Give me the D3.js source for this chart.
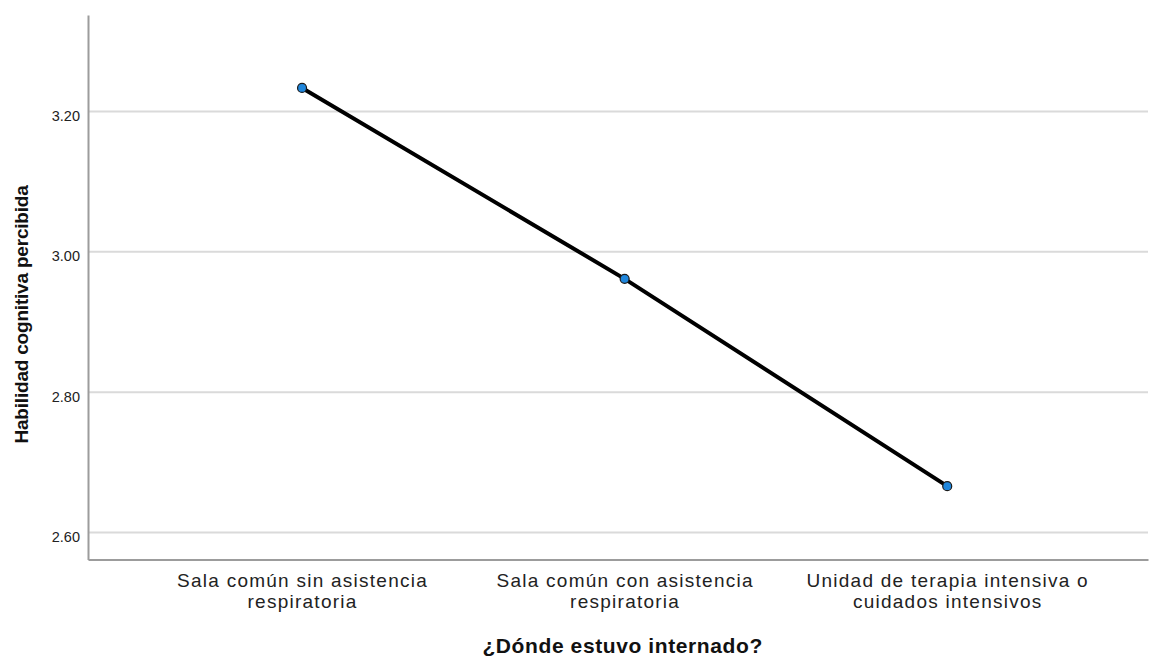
<!DOCTYPE html>
<html>
<head>
<meta charset="utf-8">
<script src="https://cdn.jsdelivr.net/npm/d3@7"></script>
<style>
  body { margin: 0; background: #fff; }
  svg { display: block; font-family: "Liberation Sans", Arial, sans-serif; }
</style>
</head>
<body>
<svg width="1152" height="656"></svg>
<script>
// datos
const categories = [
  'Sala común sin asistencia respiratoria',
  'Sala común con asistencia respiratoria',
  'Unidad de terapia intensiva o cuidados intensivos'
];
const categoryLines = [
  ['Sala común sin asistencia', 'respiratoria'],
  ['Sala común con asistencia', 'respiratoria'],
  ['Unidad de terapia intensiva o', 'cuidados intensivos']
];
const means = [3.2335, 2.9615, 2.6660];
const yTicks = [2.60, 2.80, 3.00, 3.20];

const svg = d3.select('svg');
const margin = { top: 15, right: 4, bottom: 96.5, left: 88 };
const width = +svg.attr('width') - margin.left - margin.right;
const height = +svg.attr('height') - margin.top - margin.bottom;

const g = svg.append('g').attr('transform', `translate(${margin.left},${margin.top})`);

const x = d3.scalePoint()
  .domain(categories)
  .range([0, width])
  .padding(0.643)
  .align(0.516);

const y = d3.scaleLinear()
  .domain([2.5615, 3.3375])
  .range([height, 0]);

// líneas de cuadrícula
g.append('g')
  .selectAll('line')
  .data(yTicks)
  .join('line')
  .attr('x1', 0)
  .attr('x2', width)
  .attr('y1', d => y(d))
  .attr('y2', d => y(d))
  .attr('stroke', '#dadada')
  .attr('stroke-width', 2);

// eje y
const yAxis = g.append('g')
  .call(d3.axisLeft(y).tickValues(yTicks).tickFormat(d3.format('.2f')).tickSize(0).tickPadding(8));
yAxis.select('.domain').attr('stroke', '#9c9c9c').attr('stroke-width', 2);
yAxis.selectAll('text')
  .attr('font-size', '14.5px')
  .attr('font-family', '"Liberation Sans", Arial, sans-serif')
  .attr('fill', '#222')
  .attr('dy', '0.62em');

// eje x
const xAxis = g.append('g')
  .attr('transform', `translate(0,${height})`)
  .call(d3.axisBottom(x).tickSize(0).tickFormat(''));
xAxis.select('.domain').attr('stroke', '#9c9c9c').attr('stroke-width', 2);

xAxis.selectAll('.tick').each(function(d, i) {
  const t = d3.select(this).append('text')
    .attr('fill', '#222')
    .attr('font-size', '19px')
    .attr('letter-spacing', '1.25px')
    .attr('text-anchor', 'middle')
    .attr('font-family', '"Liberation Sans", Arial, sans-serif');
  categoryLines[i].forEach((line, j) => {
    t.append('tspan')
      .attr('x', 0)
      .attr('y', 27.5 + j * 20.5)
      .text(line);
  });
});

// títulos de ejes
svg.append('text')
  .attr('x', margin.left + x(categories[1]) - 2)
  .attr('y', 653)
  .attr('text-anchor', 'middle')
  .attr('font-weight', 'bold')
  .attr('font-size', '21px')
  .attr('letter-spacing', '0.6px')
  .attr('fill', '#111')
  .text('¿Dónde estuvo internado?');

svg.append('text')
  .attr('transform', `translate(28,${margin.top + height * 0.55}) rotate(-90)`)
  .attr('text-anchor', 'middle')
  .attr('font-weight', 'bold')
  .attr('font-size', '19px')
  .attr('letter-spacing', '-0.2px')
  .attr('fill', '#111')
  .text('Habilidad cognitiva percibida');

// línea de medias
const line = d3.line()
  .x((d, i) => x(categories[i]))
  .y(d => y(d));

g.append('path')
  .datum(means)
  .attr('fill', 'none')
  .attr('stroke', '#000')
  .attr('stroke-width', 4)
  .attr('d', line);

g.selectAll('.pt')
  .data(means)
  .join('circle')
  .attr('class', 'pt')
  .attr('cx', (d, i) => x(categories[i]))
  .attr('cy', d => y(d))
  .attr('r', 4.5)
  .attr('fill', '#1f86dc')
  .attr('stroke', '#1a1a1a')
  .attr('stroke-width', 1.2);
</script>
</body>
</html>
